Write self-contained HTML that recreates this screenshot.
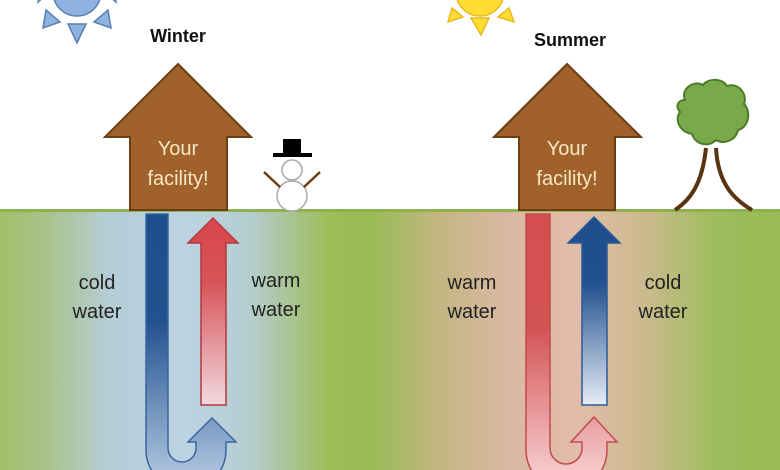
<!DOCTYPE html>
<html><head><meta charset="utf-8"><style>
html,body{margin:0;padding:0;background:#fff;}
svg{display:block;}
text{font-family:"Liberation Sans",sans-serif;}
</style></head><body>
<svg width="780" height="470" viewBox="0 0 780 470" xmlns="http://www.w3.org/2000/svg">
<defs>
<linearGradient id="ground" x1="0" x2="780" y1="0" y2="0" gradientUnits="userSpaceOnUse">
<stop offset="0" stop-color="#a3bf6c"/>
<stop offset="0.06" stop-color="#a8c28a"/>
<stop offset="0.14" stop-color="#b5cdd6"/>
<stop offset="0.24" stop-color="#bcd3e3"/>
<stop offset="0.32" stop-color="#b6cdd0"/>
<stop offset="0.42" stop-color="#9dbd5a"/>
<stop offset="0.48" stop-color="#9bbb59"/>
<stop offset="0.56" stop-color="#c2b680"/>
<stop offset="0.64" stop-color="#d8b8a0"/>
<stop offset="0.74" stop-color="#e2bcaa"/>
<stop offset="0.82" stop-color="#cdba90"/>
<stop offset="0.92" stop-color="#9dbd5c"/>
<stop offset="1" stop-color="#9bbb59"/>
</linearGradient>
<linearGradient id="blueDown" x1="0" y1="215" x2="0" y2="470" gradientUnits="userSpaceOnUse">
<stop offset="0" stop-color="#1f4e8c"/><stop offset="0.42" stop-color="#23528f"/><stop offset="1" stop-color="#a8c0dc"/>
</linearGradient>
<linearGradient id="redUp" x1="0" y1="218" x2="0" y2="405" gradientUnits="userSpaceOnUse">
<stop offset="0" stop-color="#d9464a"/><stop offset="0.35" stop-color="#d65559"/><stop offset="1" stop-color="#f2d8e0"/>
</linearGradient>
<linearGradient id="redDown" x1="0" y1="215" x2="0" y2="470" gradientUnits="userSpaceOnUse">
<stop offset="0" stop-color="#d44e4f"/><stop offset="0.45" stop-color="#d45456"/><stop offset="1" stop-color="#f5c9cb"/>
</linearGradient>
<linearGradient id="blueUp" x1="0" y1="218" x2="0" y2="405" gradientUnits="userSpaceOnUse">
<stop offset="0" stop-color="#1f4e8c"/><stop offset="0.35" stop-color="#22508e"/><stop offset="1" stop-color="#e6ecf6"/>
</linearGradient>
</defs>

<rect x="0" y="0" width="780" height="470" fill="#fff"/>
<rect x="0" y="211" width="780" height="259" fill="url(#ground)"/>
<rect x="0" y="209" width="780" height="3" fill="#8fb150"/>

<!-- winter sun -->
<g fill="#8fb3e0" stroke="#5a7fb0" stroke-width="1.5">
<circle cx="77" cy="-8" r="24"/>
<polygon points="68,24 86,24 77,43"/>
<polygon points="46,10 60,22 43,28"/>
<polygon points="94,22 108,10 111,28"/>
<polygon points="40,-6 52,-10 38,2"/>
<polygon points="102,-10 114,-6 116,2"/>
</g>
<!-- summer sun -->
<g fill="#ffdd33" stroke="#e8b820" stroke-width="1.5">
<circle cx="480" cy="-8" r="24"/>
<polygon points="471,18 489,18 481,35"/>
<polygon points="452,8 463,17 448,22"/>
<polygon points="498,17 509,8 514,22"/>
</g>

<text x="178" y="42" font-size="18" font-weight="bold" text-anchor="middle" fill="#111">Winter</text>
<text x="570" y="46" font-size="18" font-weight="bold" text-anchor="middle" fill="#111">Summer</text>

<!-- houses -->
<g fill="#a0612a" stroke="#6b3e14" stroke-width="2">
<polygon points="178,64 251,137 227,137 227,210 130,210 130,137 105,137"/>
<polygon points="567,64 641,137 615,137 615,210 519,210 519,137 494,137"/>
</g>
<g fill="#f7e8c4" font-size="20" text-anchor="middle">
<text x="178" y="155">Your</text><text x="178" y="185">facility!</text>
<text x="567" y="155">Your</text><text x="567" y="185">facility!</text>
</g>

<!-- snowman -->
<g>
<circle cx="292" cy="196" r="15" fill="#fff" stroke="#aaa" stroke-width="1.5"/>
<circle cx="292" cy="170" r="10" fill="#fff" stroke="#aaa" stroke-width="1.5"/>
<line x1="264" y1="172" x2="280" y2="187" stroke="#6b3e14" stroke-width="2.5"/>
<line x1="320" y1="172" x2="304" y2="187" stroke="#6b3e14" stroke-width="2.5"/>
<rect x="283" y="139" width="18" height="15" fill="#000"/>
<rect x="273" y="153" width="39" height="4" fill="#000"/>
</g>

<!-- tree -->
<g>
<path d="M706,148 C702,185 690,200 675,210" fill="none" stroke="#5a3410" stroke-width="4"/>
<path d="M716,148 C718,185 735,200 752,210" fill="none" stroke="#5a3410" stroke-width="4"/>
<path d="M685,100 C680,88 695,80 703,85 C708,78 722,78 727,86 C738,82 748,94 744,104 C752,112 748,128 738,130 C736,140 724,145 716,140 C708,148 695,144 692,134 C680,132 674,120 680,112 C675,106 678,100 685,100 Z" fill="#78a94a" stroke="#4f7a2a" stroke-width="2"/>
</g>

<!-- winter pipes -->
<path d="M146,214 L168,214 L168,448 A14,14 0 0 0 196,448 L196,442 L188,442 L212,418 L236,442 L226,442 L226,450 A40,40 0 0 1 146,450 Z" fill="url(#blueDown)" stroke="#3a64a0" stroke-width="1.5"/>
<path d="M201,405 L201,243 L188,243 L213,218 L238,243 L226,243 L226,405 Z" fill="url(#redUp)" stroke="#b03a3e" stroke-width="1.5"/>

<!-- summer pipes -->
<path d="M526,214 L550,214 L550,448 A16,16 0 0 0 582,448 L582,442 L571,442 L594,417 L617,442 L607,442 L607,450 A40,40 0 0 1 526,450 Z" fill="url(#redDown)" stroke="#c24a4e" stroke-width="1.5"/>
<path d="M582,405 L582,243 L568,243 L594,217 L620,243 L607,243 L607,405 Z" fill="url(#blueUp)" stroke="#2a5a98" stroke-width="1.5"/>

<!-- labels -->
<g font-size="20" fill="#222" text-anchor="middle">
<text x="97" y="289">cold</text><text x="97" y="318">water</text>
<text x="276" y="287">warm</text><text x="276" y="316">water</text>
<text x="472" y="289">warm</text><text x="472" y="318">water</text>
<text x="663" y="289">cold</text><text x="663" y="318">water</text>
</g>
</svg>
</body></html>
